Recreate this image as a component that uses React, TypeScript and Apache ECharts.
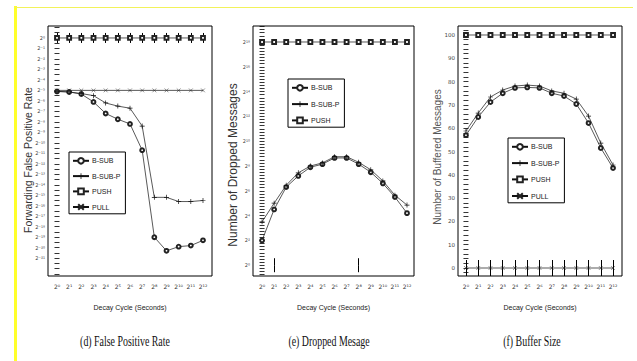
import React, { useEffect, useRef } from "react";
import * as echarts from "echarts";

// ---- data ----
const decayExponents = [0, 1, 2, 3, 4, 5, 6, 7, 8, 9, 10, 11, 12];

// (d) false positive rate, values are log2 exponents
const fprLabelExps = [0, -1, -2, -3, -4, -5, -6, -7, -8, -9, -10, -11, -12, -13, -14, -15, -16, -17, -18, -19, -20, -21];
const bsubFpr = [-5.1, -5.15, -5.35, -6.1, -7.2, -7.75, -8.2, -10.7, -19.0, -20.3, -19.9, -19.8, -19.3];
const bsubpFpr = [-5.1, -5.15, -5.3, -5.5, -6.2, -6.5, -6.7, -8.4, -15.2, -15.2, -15.6, -15.6, -15.5];
const pushFpr = [0, 0, 0, 0, 0, 0, 0, 0, 0, 0, 0, 0, 0];
const pullFpr = [-5, -5, -5, -5, -5, -5, -5, -5, -5, -5, -5, -5, -5];

// (e) dropped messages, log2 exponents
const dropLabelExps = [0, 2, 4, 6, 8, 10, 12, 14, 16, 18];
const bsubDrop = [2.0, 4.5, 6.3, 7.2, 7.9, 8.15, 8.65, 8.65, 8.15, 7.5, 6.6, 5.5, 4.2];
const bsubpDrop = [3.5, 5.0, 6.45, 7.45, 8.0, 8.25, 8.75, 8.75, 8.3, 7.7, 6.8, 5.65, 4.85];
const pushDrop = [18, 18, 18, 18, 18, 18, 18, 18, 18, 18, 18, 18, 18];

// (f) buffer size
const bufLabels = [0, 10, 20, 30, 40, 50, 60, 70, 80, 90, 100];
const bsubBuf = [57, 64.8, 71.2, 75, 77.3, 77.5, 77.3, 75, 73.8, 70.4, 62.2, 51.5, 42.9];
const bsubpBuf = [58.8, 66.5, 73.4, 76.4, 78.1, 78.5, 78.1, 76, 75, 72.5, 65.2, 53.6, 44.2];
const pushBuf = [100, 100, 100, 100, 100, 100, 100, 100, 100, 100, 100, 100, 100];
const pullBuf = [0, 0, 0, 0, 0, 0, 0, 0, 0, 0, 0, 0, 0];

const SUP: Record<string, string> = {
  "0": "⁰", "1": "¹", "2": "²", "3": "³", "4": "⁴", "5": "⁵", "6": "⁶", "7": "⁷", "8": "⁸", "9": "⁹", "-": "⁻",
};
const pow2 = (n: number) => "2" + String(Math.round(n)).split("").map((c) => SUP[c] || c).join("");

const range = (a: number, b: number, s: number) => {
  const r: number[] = [];
  for (let v = a; v <= b + 1e-9; v += s) r.push(Math.round(v * 1000) / 1000);
  return r;
};

const AX_FONT = "DejaVu Sans";

const symBsub = "emptyCircle";
const symBsubp = "path://M4.3,0H5.7V4.3H10V5.7H5.7V10H4.3V5.7H0V4.3H4.3Z";
const symPush = "emptyRect";
const symPull = "path://M0,0L10,10M10,0L0,10";

function lineSeries(name: string, vals: number[], gi: number, sym: string) {
  const isPull = name === "PULL";
  const isP = name === "B-SUB-P";
  return {
    type: "line",
    name,
    xAxisIndex: gi * 2,
    yAxisIndex: gi * 2,
    data: vals.map((v, i) => [decayExponents[i] - decayExponents[0], v]),
    symbol: sym,
    symbolSize: isP ? 5 : 3.8,
    showSymbol: true,
    lineStyle: { color: "#111", width: 0.7 },
    itemStyle: isPull
      ? { color: "rgba(0,0,0,0)", borderColor: "#222", borderWidth: 0.5 }
      : isP
      ? { color: "#111", borderWidth: 0 }
      : { color: "#222", borderColor: "#222", borderWidth: 0.5 },
    emphasis: { disabled: true },
    z: 3,
  };
}

export default function App() {
  const ref = useRef<HTMLDivElement>(null);
  useEffect(() => {
    if (!ref.current) return;
    const chart = echarts.init(ref.current, null, { renderer: "svg" });

    const grids = [
      { left: 48, top: 26, width: 164, height: 250 },
      { left: 253, top: 26, width: 161, height: 250 },
      { left: 458, top: 26, width: 164, height: 250 },
    ].map((g) => ({ ...g, show: true, borderColor: "#000", borderWidth: 1, backgroundColor: "transparent" }));

    const xRanges = [
      { min: -0.74, max: 12.74, ticks: decayExponents.map((_, i) => i), tickLen: 5 },
      { min: -0.75, max: 12.58, ticks: [1, 8], tickLen: 7 },
      { min: -0.65, max: 12.73, ticks: decayExponents.map((_, i) => i), tickLen: 8 },
    ];

    const xAxis: any[] = [];
    xRanges.forEach((r, gi) => {
      xAxis.push({
        type: "value",
        gridIndex: gi,
        position: "bottom",
        min: r.min,
        max: r.max,
        name: "Decay Cycle (Seconds)",
        nameLocation: "middle",
        nameGap: 28,
        nameTextStyle: { fontSize: 7, color: "#222", fontFamily: "Liberation Sans" },
        axisLine: { show: false },
        splitLine: { show: false },
        axisTick: { show: true, inside: true, length: r.tickLen, customValues: r.ticks, lineStyle: { color: "#000", width: 1 } },
        axisLabel: {
          show: true,
          customValues: decayExponents.map((_, i) => i),
          formatter: (v: number) => pow2(decayExponents[Math.round(v)]),
          fontSize: 6,
          margin: 7,
          color: "#333",
          fontFamily: AX_FONT,
        },
      });
      xAxis.push({
        type: "value",
        gridIndex: gi,
        position: "top",
        min: r.min,
        max: r.max,
        axisLine: { show: false },
        splitLine: { show: false },
        axisLabel: { show: false },
        axisTick: { show: true, inside: true, length: r.tickLen, customValues: r.ticks, lineStyle: { color: "#000", width: 1 } },
      });
    });

    const yDefs = [
      { min: -22.7, max: 1.14, labels: fprLabelExps, fmt: (v: number) => pow2(v), minor: range(-22.5, 1, 0.5), tickLen: 2.5, fs: 5 },
      { min: -0.87, max: 19.29, labels: dropLabelExps, fmt: (v: number) => pow2(v), minor: range(-0.75, 19.25, 0.25), tickLen: 2.5, fs: 5 },
      { min: -3.43, max: 103.86, labels: bufLabels, fmt: (v: number) => String(v), minor: range(-2, 102, 2), tickLen: 2.5, fs: 5.5 },
    ];

    const yAxis: any[] = [];
    yDefs.forEach((d, gi) => {
      yAxis.push({
        type: "value",
        gridIndex: gi,
        position: "left",
        min: d.min,
        max: d.max,
        axisLine: { show: false },
        splitLine: { show: false },
        axisTick: { show: true, inside: true, length: d.tickLen, customValues: d.minor, lineStyle: { color: "#000", width: 0.8 } },
        axisLabel: {
          show: true,
          customValues: d.labels,
          formatter: d.fmt,
          fontSize: d.fs,
          margin: 3,
          color: "#444",
          fontFamily: AX_FONT,
        },
      });
      yAxis.push({
        type: "value",
        gridIndex: gi,
        position: "right",
        min: d.min,
        max: d.max,
        axisLine: { show: false },
        splitLine: { show: false },
        axisLabel: { show: false },
        axisTick: { show: true, inside: true, length: d.tickLen, customValues: d.minor, lineStyle: { color: "#000", width: 0.8 } },
      });
    });

    const series: any[] = [
      lineSeries("B-SUB", bsubFpr, 0, symBsub),
      lineSeries("B-SUB-P", bsubpFpr, 0, symBsubp),
      lineSeries("PUSH", pushFpr, 0, symPush),
      lineSeries("PULL", pullFpr, 0, symPull),
      lineSeries("B-SUB", bsubDrop, 1, symBsub),
      lineSeries("B-SUB-P", bsubpDrop, 1, symBsubp),
      lineSeries("PUSH", pushDrop, 1, symPush),
      lineSeries("B-SUB", bsubBuf, 2, symBsub),
      lineSeries("B-SUB-P", bsubpBuf, 2, symBsubp),
      lineSeries("PUSH", pushBuf, 2, symPush),
      lineSeries("PULL", pullBuf, 2, symPull),
    ];

    const legendBase = {
      orient: "vertical",
      borderColor: "#000",
      borderWidth: 1,
      borderRadius: 0,
      backgroundColor: "#fff",
      padding: [5, 5, 3, 3],
      itemWidth: 16,
      itemHeight: 7,
      itemGap: 8,
      selectedMode: false,
      textStyle: { fontSize: 7, color: "#222", fontFamily: "Liberation Sans", padding: [0, 0, 0, -2] },
    };

    const legend = [
      { ...legendBase, left: 69, top: 152, data: ["B-SUB", "B-SUB-P", "PUSH", "PULL"] },
      { ...legendBase, left: 288, top: 79, itemGap: 9, data: ["B-SUB", "B-SUB-P", "PUSH"] },
      { ...legendBase, left: 508, top: 138, itemGap: 9, data: ["B-SUB", "B-SUB-P", "PUSH", "PULL"] },
    ];

    const captionStyle = { fontSize: 15, fontFamily: "Liberation Serif", fill: "#111", textAlign: "center", textVerticalAlign: "middle" };
    const nameStyle = { fontFamily: "Liberation Sans", textAlign: "center", textVerticalAlign: "middle" };
    const rot = Math.PI / 2;
    const graphic = [
      { type: "line", shape: { x1: 15.5, y1: 6, x2: 15.5, y2: 361 }, style: { stroke: "#ffff2a", lineWidth: 3 }, z: 10 },
      { type: "line", shape: { x1: 14, y1: 7.5, x2: 633, y2: 7.5 }, style: { stroke: "#f2f25a", lineWidth: 1 }, z: 10 },
      { type: "text", x: 28, y: 160, rotation: rot, style: { ...nameStyle, fontSize: 10.5, fill: "#333", text: "Forwarding False Positive Rate" } },
      { type: "text", x: 233, y: 165, rotation: rot, style: { ...nameStyle, fontSize: 12, fill: "#333", text: "Number of Dropped Messages" } },
      { type: "text", x: 437, y: 157, rotation: rot, style: { ...nameStyle, fontSize: 10, fill: "#555", text: "Number of Buffered Messages" } },
      { type: "text", x: 125, y: 341, scaleX: 0.66, style: { ...captionStyle, text: "(d) False Positive Rate" } },
      { type: "text", x: 329, y: 341, scaleX: 0.66, style: { ...captionStyle, text: "(e) Dropped Mesage" } },
      { type: "text", x: 532, y: 341, scaleX: 0.66, style: { ...captionStyle, text: "(f) Buffer Size" } },
    ];

    chart.setOption({
      animation: false,
      backgroundColor: "#fff",
      grid: grids,
      xAxis,
      yAxis,
      series,
      legend,
      graphic,
    });
    return () => chart.dispose();
  }, []);

  return (
    <div
      ref={ref}
      style={{ position: "fixed", left: 0, top: 0, width: 637, height: 361, background: "#fff" }}
    />
  );
}
